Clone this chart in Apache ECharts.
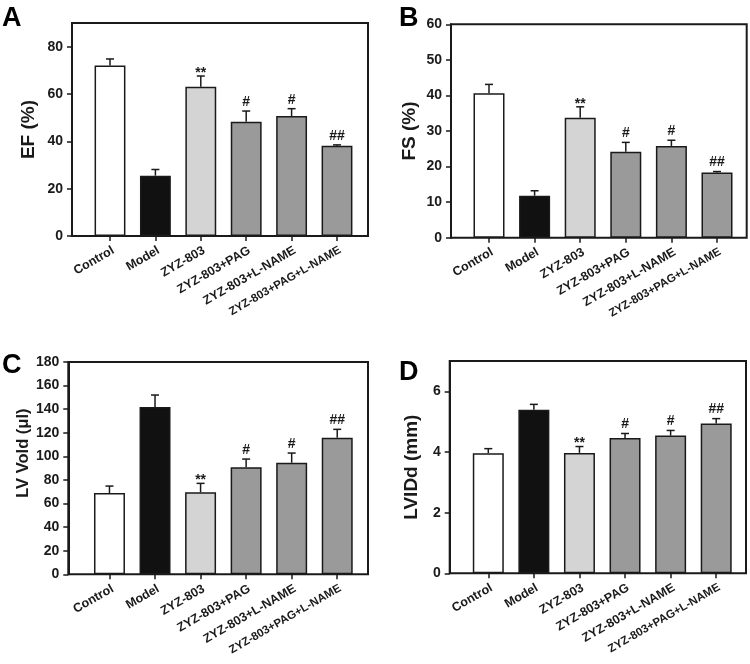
<!DOCTYPE html>
<html>
<head>
<meta charset="utf-8">
<script src="https://cdn.jsdelivr.net/npm/echarts@6/dist/echarts.min.js"></script>
<style>
html,body{margin:0;padding:0;background:#fff;}
#chart{width:750px;height:664px;}
</style>
</head>
<body>
<div id="chart"></div>
<script>
// ---- data ----
const categories = ['Control', 'Model', 'ZYZ-803', 'ZYZ-803+PAG', 'ZYZ-803+L-NAME', 'ZYZ-803+PAG+L-NAME'];
const sigMarks = ['', '', '**', '#', '#', '##'];

const efMean = [72.0, 25.5, 63.1, 48.3, 50.7, 38.1];
const efSem  = [2.8, 2.6, 4.5, 4.5, 3.1, 0.4];

const fsMean = [40.6, 11.8, 33.7, 24.2, 25.8, 18.3];
const fsSem  = [2.5, 1.4, 3.1, 2.6, 1.6, 0.3];

const lvvMean = [68.9, 141.8, 69.5, 90.7, 94.6, 115.8];
const lvvSem  = [5.9, 10.2, 7.6, 7.0, 8.2, 7.1];

const lvidMean = [3.96, 5.39, 3.97, 4.46, 4.54, 4.94];
const lvidSem  = [0.15, 0.18, 0.21, 0.15, 0.17, 0.16];

const efTicks = [0, 20, 40, 60, 80];
const fsTicks = [0, 10, 20, 30, 40, 50, 60];
const lvvTicks = [0, 20, 40, 60, 80, 100, 120, 140, 160, 180];
const lvidTicks = [0, 2, 4, 6];

// ---- styling / layout ----
const FONT = '"Liberation Sans", Arial, Helvetica, sans-serif';
const INK = '#1a1a1a';
const barColors = ['#ffffff', '#111111', '#d4d4d4', '#9a9a9a', '#9a9a9a', '#9a9a9a'];

const panels = [
  { letter: 'A', name: 'EF (%)', mean: efMean, sem: efSem, max: 90, interval: 20, ticks: efTicks,
    frame: { left: 72, top: 23, width: 296, height: 213 }, bars: { left: 87.3, width: 272.4 },
    nameGap: 34, nameSize: 19, namePad: 0, letterPos: [2, 5] },
  { letter: 'B', name: 'FS (%)', mean: fsMean, sem: fsSem, max: 60, interval: 10, ticks: fsTicks,
    frame: { left: 451, top: 24.3, width: 295.7, height: 213.4 }, bars: { left: 466.2, width: 273.6 },
    nameGap: 32, nameSize: 19, namePad: 0, letterPos: [399, 5] },
  { letter: 'C', name: 'LV Vold (\u03bcl)', mean: lvvMean, sem: lvvSem, max: 180, interval: 20, ticks: lvvTicks,
    frame: { left: 68.3, top: 362, width: 299.7, height: 212.3 }, bars: { left: 86.7, width: 273.3 },
    nameGap: 35, nameSize: 16.5, namePad: 30, letterPos: [2, 352] },
  { letter: 'D', name: 'LVIDd (mm)', mean: lvidMean, sem: lvidSem, max: 7, interval: 1, ticks: lvidTicks,
    frame: { left: 449.7, top: 361, width: 296.3, height: 212.3 }, bars: { left: 465.5, width: 273.5 },
    nameGap: 28, nameSize: 19, namePad: 0, letterPos: [399, 359] }
];

const option = { animation: false, grid: [], xAxis: [], yAxis: [], series: [], graphic: [] };

panels.forEach(function (p, k) {
  const gF = 2 * k, gB = 2 * k + 1;
  option.grid.push({ left: p.frame.left, top: p.frame.top, width: p.frame.width, height: p.frame.height,
    show: true, borderColor: INK, borderWidth: 2, backgroundColor: 'rgba(0,0,0,0)' });
  option.grid.push({ left: p.bars.left, top: p.frame.top, width: p.bars.width, height: p.frame.height, show: false });

  option.xAxis.push({ gridIndex: gF, type: 'value', min: 0, max: 1, show: false });
  option.xAxis.push({
    gridIndex: gB, type: 'category', data: categories,
    axisLine: { show: false },
    axisTick: { show: true, alignWithLabel: true, length: 5, lineStyle: { color: INK, width: 1.5 } },
    axisLabel: {
      interval: 0, rotate: 30, margin: 8, align: 'right', verticalAlign: 'top',
      fontSize: 12.5, fontWeight: 'bold', color: INK, fontFamily: FONT,
      formatter: function (v, i) { return i === 5 ? '{s|' + v + '}' : v; },
      rich: { s: { fontSize: 11.5, fontWeight: 'bold', color: INK, fontFamily: FONT } }
    },
    splitLine: { show: false }
  });

  option.yAxis.push({
    gridIndex: gF, type: 'value', min: 0, max: p.max, interval: p.interval,
    name: p.name, nameLocation: 'middle', nameGap: p.nameGap,
    nameTextStyle: { fontSize: p.nameSize, fontWeight: 'bold', color: INK, fontFamily: FONT,
      padding: [0, 0, 0, p.namePad] },
    axisLine: { show: true, lineStyle: { color: INK, width: 2 } },
    axisTick: { show: true, length: 5, lineStyle: { color: INK, width: 1.5 }, customValues: p.ticks },
    axisLabel: { customValues: p.ticks, fontSize: 14, fontWeight: 'bold', color: INK, fontFamily: FONT, margin: 9 },
    splitLine: { show: false }
  });
  option.yAxis.push({ gridIndex: gB, type: 'value', min: 0, max: p.max, show: false, splitLine: { show: false } });

  option.series.push({
    type: 'bar', xAxisIndex: gB, yAxisIndex: gB, barWidth: '68%', silent: true,
    itemStyle: { borderColor: INK, borderWidth: 1.5 },
    data: p.mean.map(function (v, i) { return { value: v, itemStyle: { color: barColors[i] } }; }),
    z: 2
  });

  option.series.push({
    type: 'custom', xAxisIndex: gB, yAxisIndex: gB, silent: true, z: 3,
    data: p.mean.map(function (v, i) { return [i, v, v + p.sem[i]]; }),
    encode: { x: 0, y: [1, 2] },
    renderItem: function (params, api) {
      const b = api.coord([api.value(0), api.value(1)]);
      const t = api.coord([api.value(0), api.value(2)]);
      const cap = 4;
      const mark = sigMarks[params.dataIndex];
      const children = [
        { type: 'line', shape: { x1: b[0], y1: b[1], x2: t[0], y2: t[1] }, style: { stroke: INK, lineWidth: 1.5 } },
        { type: 'line', shape: { x1: t[0] - cap, y1: t[1], x2: t[0] + cap, y2: t[1] }, style: { stroke: INK, lineWidth: 1.5 } }
      ];
      if (mark) {
        children.push({
          type: 'text',
          style: { text: mark, x: t[0], y: t[1] - 2 + (mark.indexOf('*') >= 0 ? 6 : 0),
            align: 'center', verticalAlign: 'bottom', font: 'bold 14px ' + FONT, fill: INK }
        });
      }
      return { type: 'group', children: children };
    }
  });

  option.graphic.push({
    type: 'text', left: p.letterPos[0], top: p.letterPos[1],
    style: { text: p.letter, font: 'bold 27px ' + FONT, fill: '#000' }
  });
});

const chart = echarts.init(document.getElementById('chart'), null, { renderer: 'canvas' });
chart.setOption(option);
</script>
</body>
</html>
